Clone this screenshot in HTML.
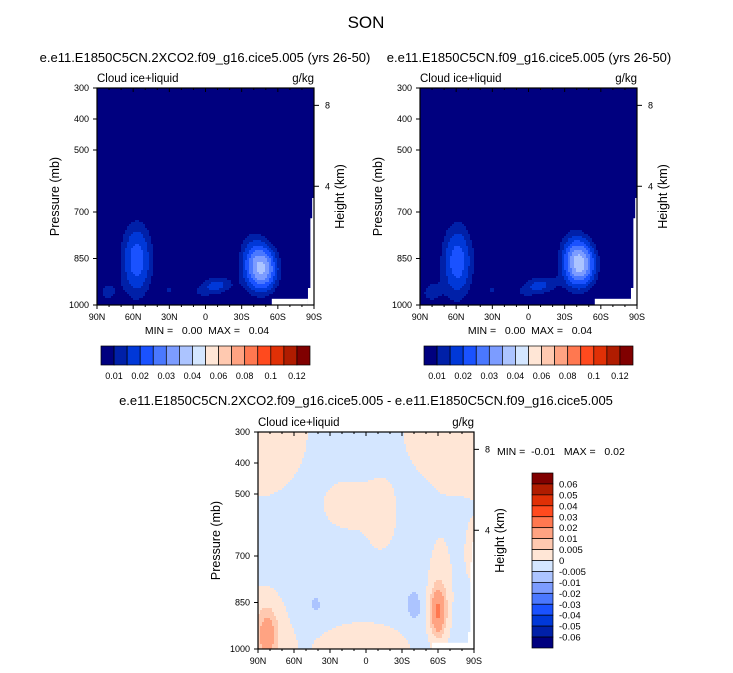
<!DOCTYPE html>
<html><head><meta charset="utf-8"><style>
body{margin:0;background:#fff;}
svg{display:block;font-family:"Liberation Sans",sans-serif;}
text{white-space:pre;}
</style></head><body>
<svg id="s" width="733" height="673" viewBox="0 0 733 673">
<text x="366" y="28" font-size="17" text-anchor="middle">SON</text>
</svg>
<script>
// ---- data ----
const latTicks = [90,60,30,0,-30,-60,-90];
const latLabels = ["90N","60N","30N","0","30S","60S","90S"];
const presTicks = [300,400,500,700,850,1000];
const heightTicks = [8,4];
const heightTickP = [356,617];
// blobs: [lat, pressure, amplitude, sigmaLat, sigmaP]
const blobsA = [[57,855,0.023,15,140],[-48,885,0.030,14,80],[-38,845,0.012,14,110],[-10,935,0.016,14,35],[82,960,0.011,10,45],[30,950,0.010,8,30],[5,960,0.008,12,30]];
const blobsB = [[59,860,0.023,15,140],[-44,870,0.030,14,80],[-36,840,0.012,14,110],[-10,935,0.016,14,35],[82,960,0.011,10,45],[30,950,0.010,8,30],[5,960,0.008,12,30]];
const baseDiff = -0.003;
const blobsD = [[90,300,0.006,48,250],[-90,300,0.006,70,250],[15,540,0.0062,20,80],[-12,580,0.0062,13,110],[90,960,0.0065,30,180],[82,955,0.012,8,80],[-60,880,0.02,6,70],[-62,820,0.006,12,180],[2,1000,0.0075,40,90],[-90,700,0.006,8,100],[-40,860,-0.005,6,50],[-42,875,-0.004,2,15],[42,858,-0.004,5,30],[-45,975,-0.004,4,20]];
const levelsAbs = [0.01,0.015,0.02,0.025,0.03,0.035,0.04,0.05,0.06,0.07,0.08,0.09,0.1,0.11,0.12];
const labelsAbs = ["0.01","0.02","0.03","0.04","0.06","0.08","0.1","0.12"];
const levelsDiff = [-0.06,-0.05,-0.04,-0.03,-0.02,-0.01,-0.005,0,0.005,0.01,0.02,0.03,0.04,0.05,0.06];
const labelsDiff = ["0.06","0.05","0.04","0.03","0.02","0.01","0.005","0","-0.005","-0.01","-0.02","-0.03","-0.04","-0.05","-0.06"];
const palette = ["#00007f","#0020a8","#0038d8","#1a52ff","#4a78ff","#7c9cff","#acc4ff","#d4e6ff","#ffe6d6","#ffc9b0","#ffa382","#ff7850","#ff4a1e","#e03006","#b01c00","#800000"];
// ---- drawing ----
const NS="http://www.w3.org/2000/svg", svg=document.getElementById('s');
function el(t,a,p){const e=document.createElementNS(NS,t);for(const k in a)e.setAttribute(k,a[k]);(p||svg).appendChild(e);return e;}
function txt(x,y,s,sz,anc,p,extra){const e=el('text',Object.assign({x:x,y:y,'font-size':sz,'text-anchor':anc||'start'},extra||{}),p);e.textContent=s;return e;}
function field(lat,p,blobs,base){let v=base;for(const b of blobs){const dl=(lat-b[0])/b[3],dp=(p-b[1])/b[4];v+=b[2]*Math.exp(-(dl*dl+dp*dp));}return v;}
function colorIdx(v,levels){let i=0;while(i<levels.length&&v>=levels[i])i++;return i;}
function panel(o){
  const g=el('g',{});
  
  
  const X=lat=>o.x+(90-lat)/180*o.w, Y=p=>o.y+(p-300)/700*o.h;
  const cs=2;
  for(let py=0;py<o.h;py+=cs){for(let px=0;px<o.w;px+=cs){
    const lat=90-(px+cs/2)/o.w*180,p=300+(py+cs/2)/o.h*700;
    const v=field(lat,p,o.blobs,o.base);
    el('rect',{x:o.x+px,y:o.y+py,width:Math.min(cs,o.w-px)+0.4,height:Math.min(cs,o.h-py)+0.4,fill:palette[colorIdx(v,o.levels)]},g);
  }}
  el('rect',{x:X(-55),y:Y(980),width:X(-85)-X(-55),height:o.y+o.h-Y(980),fill:'#fff'},g);
  el('path',{d:`M${X(-85)} ${o.y+o.h} L${X(-85)} ${Y(945)} L${X(-87)} ${Y(945)} L${X(-87)} ${Y(720)} L${X(-88.5)} ${Y(720)} L${X(-88.5)} ${Y(655)} L${X(-90)} ${Y(655)} L${X(-90)} ${o.y+o.h}Z`,fill:'#fff'},g);
  el('rect',{x:o.x,y:o.y,width:o.w,height:o.h,fill:'none',stroke:'#000','stroke-width':1.2},g);
  for(let l=90;l>=-90;l-=10){const mj=l%30===0;
    el('line',{x1:X(l),x2:X(l),y1:o.y+o.h,y2:o.y+o.h+(mj?4:2),stroke:'#000'},g);
    el('line',{x1:X(l),x2:X(l),y1:o.y,y2:o.y+(mj?4:2),stroke:'#000'},g);}
  latTicks.forEach((l,i)=>txt(X(l),o.y+o.h+15,latLabels[i],9,'middle',g));
  presTicks.forEach(p=>{el('line',{x1:o.x-4,x2:o.x,y1:Y(p),y2:Y(p),stroke:'#000'},g);txt(o.x-8,Y(p)+3,String(p),9,'end',g);});
  heightTicks.forEach((h,i)=>{const y=Y(heightTickP[i]);el('line',{x1:o.x+o.w,x2:o.x+o.w+5,y1:y,y2:y,stroke:'#000'},g);txt(o.x+o.w+11,y+3,String(h),9,'start',g);});
  const cx=o.x-38,cy=o.y+o.h/2;
  txt(cx,cy,'Pressure (mb)',12.5,'middle',g,{transform:`rotate(-90 ${cx} ${cy})`});
  const hx=o.x+o.w+30;
  txt(hx,cy,'Height (km)',12.5,'middle',g,{transform:`rotate(-90 ${hx} ${cy})`});
  txt(o.x,o.y-6,'Cloud ice+liquid',11.5,'start',g);
  txt(o.x+o.w,o.y-6,'g/kg',11.5,'end',g);
  return g;
}
function title(x,y,s){const t=txt(x,y,s,13,'middle');}
title(205,62,'e.e11.E1850C5CN.2XCO2.f09_g16.cice5.005 (yrs 26-50)');
title(529,62,'e.e11.E1850C5CN.f09_g16.cice5.005 (yrs 26-50)');
title(366,405,'e.e11.E1850C5CN.2XCO2.f09_g16.cice5.005 - e.e11.E1850C5CN.f09_g16.cice5.005');
panel({name:'panel-2xco2',x:97,y:88,w:217,h:217,blobs:blobsA,base:0,levels:levelsAbs});
panel({name:'panel-control',x:420,y:88,w:217,h:217,blobs:blobsB,base:0,levels:levelsAbs});
panel({name:'panel-difference',x:258,y:432,w:216,h:217,blobs:blobsD,base:baseDiff,levels:levelsDiff});
txt(207,334,'MIN =   0.00  MAX =   0.04',10.5,'middle');
txt(530,334,'MIN =   0.00  MAX =   0.04',10.5,'middle');
txt(497,455,'MIN =  -0.01   MAX =   0.02',10.5,'start');
function hbar(x0,name){
  const g=el('g',{});
  
  
  const bw=209/16;
  palette.forEach((c,i)=>el('rect',{x:x0+i*bw,y:346,width:bw,height:19,fill:c,stroke:'#000','stroke-width':0.7},g));
  labelsAbs.forEach((l,i)=>txt(x0+(2*i+1)*bw,379,l,9,'middle',g));
}
hbar(101,'colorbar-1');hbar(424,'colorbar-2');
(function(){
  const g=el('g',{});
  
  
  const bh=175/16;
  palette.slice().reverse().forEach((c,i)=>el('rect',{x:532,y:473+i*bh,width:21,height:bh,fill:c,stroke:'#000','stroke-width':0.7},g));
  labelsDiff.forEach((l,i)=>txt(559,473+(i+1)*bh+3.5,l,9.5,'start',g));
})();
</script>
</body></html>
